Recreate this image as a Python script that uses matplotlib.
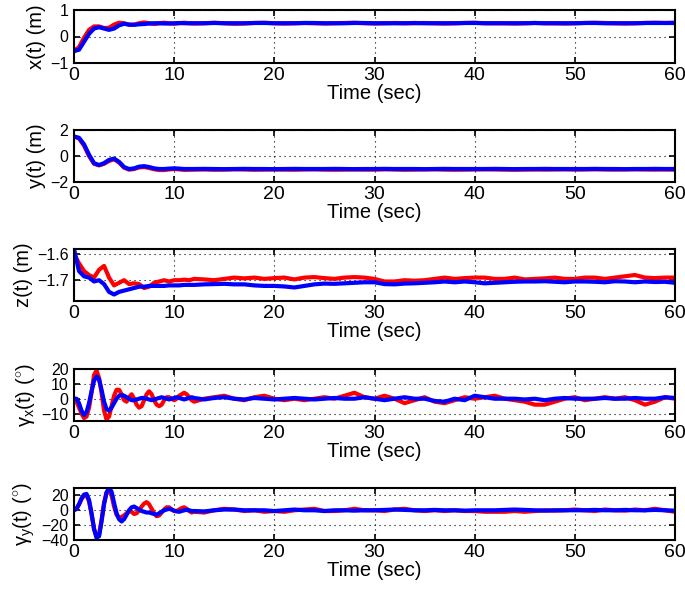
import numpy as np
import matplotlib
matplotlib.use("Agg")
from matplotlib import pyplot as plt

plt.rcParams["font.family"] = ["Liberation Sans", "DejaVu Sans"]
plt.rcParams["mathtext.fontset"] = "custom"
plt.rcParams["mathtext.rm"] = "Liberation Sans"
plt.rcParams["mathtext.it"] = "Liberation Sans"
plt.rcParams["font.size"] = 14

# time samples: dense over the transient, coarser afterwards
t_fine = np.r_[np.arange(0, 12, 0.25), np.arange(12, 61, 1)]
t_coarse = np.r_[np.arange(0, 12, 0.5), np.arange(12, 61, 1)]

x_red = [-0.55, -0.4, -0.05, 0.25, 0.38, 0.38, 0.32, 0.33, 0.45, 0.52, 0.5, 0.44,
         0.45, 0.5, 0.53, 0.5, 0.47, 0.5, 0.52, 0.5, 0.48, 0.5, 0.52, 0.5,
         0.49, 0.5, 0.52, 0.5, 0.48, 0.49, 0.51, 0.52, 0.5, 0.49, 0.5, 0.51,
         0.5, 0.49, 0.5, 0.51, 0.52, 0.5, 0.49, 0.5, 0.51, 0.5, 0.5, 0.51,
         0.5, 0.49, 0.5, 0.51, 0.52, 0.5, 0.5, 0.5, 0.49, 0.5, 0.51, 0.5,
         0.5, 0.49, 0.5, 0.51, 0.52, 0.51, 0.5, 0.49, 0.5, 0.51, 0.52, 0.51, 0.52]
x_blue = [-0.55, -0.5, -0.2, 0.1, 0.3, 0.35, 0.3, 0.25, 0.3, 0.42, 0.48, 0.45,
          0.44, 0.46, 0.47, 0.49, 0.5, 0.5, 0.49, 0.49, 0.5, 0.51, 0.5, 0.5,
          0.5, 0.5, 0.51, 0.5, 0.5, 0.5, 0.51, 0.51, 0.5, 0.5, 0.5, 0.51,
          0.51, 0.5, 0.5, 0.5, 0.51, 0.51, 0.5, 0.5, 0.5, 0.5, 0.51, 0.5,
          0.5, 0.5, 0.5, 0.51, 0.51, 0.5, 0.5, 0.5, 0.5, 0.5, 0.51, 0.5,
          0.5, 0.5, 0.5, 0.51, 0.51, 0.5, 0.5, 0.5, 0.5, 0.51, 0.51, 0.51, 0.51]

y_red = [1.5, 1.35, 0.8, 0.0, -0.6, -0.72, -0.6, -0.38, -0.25, -0.5, -0.9, -1.05,
         -1.0, -0.88, -0.85, -0.92, -1.02, -1.08, -1.08, -1.03, -1.0, -1.03, -1.07, -1.06,
         -1.05, -1.04, -1.06, -1.05, -1.03, -1.04, -1.06, -1.05, -1.04, -1.05, -1.06, -1.04,
         -1.03, -1.05, -1.06, -1.05, -1.04, -1.05, -1.05, -1.03, -1.04, -1.06, -1.05, -1.04,
         -1.03, -1.05, -1.06, -1.05, -1.04, -1.03, -1.04, -1.05, -1.06, -1.05, -1.04, -1.05,
         -1.04, -1.03, -1.05, -1.04, -1.03, -1.04, -1.05, -1.04, -1.03, -1.04, -1.05, -1.04, -1.05]
y_blue = [1.5, 1.4, 0.9, 0.1, -0.55, -0.7, -0.55, -0.3, -0.2, -0.45, -0.85, -1.0,
          -0.95, -0.82, -0.78, -0.85, -0.95, -1.0, -1.0, -0.97, -0.95, -0.97, -1.0, -1.0,
          -1.0, -0.99, -1.0, -1.01, -1.0, -0.99, -1.0, -1.0, -1.01, -1.0, -0.99, -1.0,
          -1.0, -1.0, -0.99, -1.0, -1.01, -1.0, -1.0, -0.99, -1.0, -1.0, -1.0, -1.01,
          -1.0, -0.99, -1.0, -1.0, -1.0, -1.0, -0.99, -1.0, -1.01, -1.0, -1.0, -0.99,
          -1.0, -1.0, -1.0, -1.0, -0.99, -1.0, -1.0, -1.01, -1.0, -1.0, -0.99, -1.0, -1.0]

z_red = [-1.60, -1.635, -1.665, -1.68, -1.69, -1.66, -1.645, -1.69, -1.72, -1.71, -1.70, -1.715,
         -1.712, -1.715, -1.73, -1.725, -1.71, -1.705, -1.70, -1.705, -1.70, -1.70, -1.698, -1.70,
         -1.695, -1.697, -1.70, -1.695, -1.69, -1.693, -1.69, -1.695, -1.692, -1.69, -1.697, -1.69,
         -1.688, -1.692, -1.695, -1.69, -1.688, -1.69, -1.695, -1.705, -1.705, -1.70, -1.702, -1.70,
         -1.695, -1.69, -1.695, -1.692, -1.69, -1.69, -1.695, -1.695, -1.69, -1.697, -1.695, -1.693,
         -1.69, -1.695, -1.695, -1.69, -1.69, -1.695, -1.69, -1.685, -1.68, -1.69, -1.692, -1.69, -1.69]
z_blue = [-1.58, -1.665, -1.685, -1.69, -1.705, -1.70, -1.715, -1.745, -1.755, -1.745, -1.74, -1.735,
          -1.73, -1.725, -1.725, -1.722, -1.722, -1.722, -1.722, -1.72, -1.72, -1.72, -1.718, -1.718,
          -1.718, -1.716, -1.715, -1.714, -1.716, -1.716, -1.72, -1.722, -1.722, -1.724, -1.728, -1.722,
          -1.716, -1.713, -1.714, -1.712, -1.71, -1.708, -1.708, -1.715, -1.716, -1.713, -1.712, -1.71,
          -1.708, -1.705, -1.708, -1.705, -1.708, -1.712, -1.71, -1.708, -1.706, -1.705, -1.705, -1.704,
          -1.706, -1.708, -1.705, -1.705, -1.706, -1.708, -1.704, -1.705, -1.708, -1.705, -1.707, -1.706, -1.71]

gx_red = [0, -2, -6, -10, -13, -12, -6, 4, 16, 19, 14, 4,
          -8, -14, -12, -5, 2, 6, 6, 3, -1, -2, 1, 3,
          0, -4, -6, -5, -1, 3, 5, 3, -1, -4, -5, -4,
          -1, 1, 1, 0, -1, 0, 2, 3, 4, 3, 1, -1,
          -2, 0, 1, 2, 0, -1, 1, 2, 0, -1, 0, -1, 0, 1, 0, 2, 4, 1, 0, 2, 0,
          -3, -1, 1, -2, -3, -1, 1, 0, 1, 2, 0, -1, -2, -4, -4, -2, 0, 1, -1,
          0, 1, 0, 1, -1, -4, -2, 1, 0]
gx_blue = [0, 0, -3, -8, -11, -9, -3, 5, 12, 15, 13, 6,
           -2, -7, -8, -6, -3, 0, 2, 2.5, 2, 1, 0, -1,
           -1, -0.5, 0, 0.5, 0.5, 0, -0.5, -1, -0.5, 0, 0.5, 1,
           0.5, 0, -0.5, 0, 0.5, 1, 0.5, 0, -0.5, 0, 0.5, 1,
           0.5, -0.5, 0.5, 1, 0, -0.5, 0.5, 0, -0.5, 0, 0.5, 0, -0.5, 0, 0.5, 0, 0, 1, 0, -1, 0,
           1, 0, 0, -1.5, -2, 0, -1, 2, 1, 0, 0, 0, -0.5, 0, -1, 0, 0.5, 0,
           0, 0, 0.5, 0, 0, 0.5, 0, 0, 1, 0.5]

gy_red = [0, 2, 8, 15, 20, 20, 12, -5, -25, -36, -33, -13,
          10, 24, 27, 20, 5, -6, -10, -9, -7, -4, -1, -2,
          -5, -4, 0, 5, 9, 11, 8, 2, -4, -8, -7, -3,
          1, 4, 4, 1, -1, -1, 1, 3, 4, 2, -1, -3,
          -2, -3, 0, 2, 1, -1, 0, -2, -1, -2, 0, 1, 2, -1, -1, 0, 2, 0, 0,
          -1, 1, 2, 0, -1, 0, -1, 0, -1, -1, -2, -2, -2, -1, -2, -1, 0, -0.5,
          0, 1, 0, -1, 1, 0, -0.5, 1, 0, 2, 0, -2]
gy_blue = [0, 2, 8, 16, 21, 22, 14, -4, -25, -37, -35, -15,
           8, 24, 30, 25, 10, -4, -12, -15, -12, -6, 0, 4,
           5, 3, 1, -1, -2, -3, -3, -4, -5, -6, -4, -2,
           0, 1, 2, 1, -0.5, -1.5, -2, -1, 0, 0.5, 0, -1,
           -1, -1.5, 0, 1, 1, 0, 0, 0, -1, 0, 1, 0, 0, -1, 0, 0, -0.5,
           0, 0, 0.5, 1, 0.5, 0, 0, 0.5, 0, 0, -0.5, 0, 0, 0, 0.5, 1, 0.5, 0,
           -0.5, 0, 0, 0, 0, 0.5, 0, 0, 0.5, 0, 0, 0.5, 0, -0.5]

panels = [
    (t_coarse, x_red, x_blue, "x(t) (m)", (-1, 1), [-1, 0, 1]),
    (t_coarse, y_red, y_blue, "y(t) (m)", (-2, 2), [-2, 0, 2]),
    (t_coarse, z_red, z_blue, "z(t) (m)", (-1.78, -1.58), [-1.7, -1.6]),
    (t_fine, gx_red, gx_blue, r"$\gamma_x$(t) ($^{\circ}$)", (-15, 20), [-10, 0, 10, 20]),
    (t_fine, gy_red, gy_blue, r"$\gamma_y$(t) ($^{\circ}$)", (-40, 30), [-40, -20, 0, 20]),
]

# panel frame positions in pixels (top, bottom)
W, H = 685, 590
frames = [(10, 63), (130, 182), (249, 301), (369, 421), (488, 540)]

fig = plt.figure(figsize=(W / 100, H / 100), dpi=100)
for (t, red, blue, ylab, ylim, yticks), (top, bot) in zip(panels, frames):
    ax = fig.add_axes([74 / W, 1 - bot / H, 601 / W, (bot - top) / H])
    ax.plot(t, red, color="red", lw=3.0)
    ax.plot(t, blue, color="blue", lw=3.0)
    ax.set_xlim(0, 60)
    ax.set_ylim(*ylim)
    ax.set_xticks(np.arange(0, 61, 10))
    ax.set_yticks(yticks)
    ax.set_yticklabels([f"{v:g}".replace("-", "\u2212") for v in yticks])
    ax.grid(True, color="black", linestyle=(0, (1, 3.5)), linewidth=0.8)
    ax.tick_params(direction="in", top=True, right=True, length=4, width=1.2, pad=3)
    ax.tick_params(axis="x", labelsize=14)
    ax.tick_params(axis="y", labelsize=11.5, pad=4)
    for s in ax.spines.values():
        s.set_linewidth(1.5)
    ax.set_xlabel("Time (sec)", fontsize=14.5, labelpad=0)
    ax.set_ylabel(ylab, fontsize=14.5, labelpad=3)

fig.savefig("out.png", dpi=100)
